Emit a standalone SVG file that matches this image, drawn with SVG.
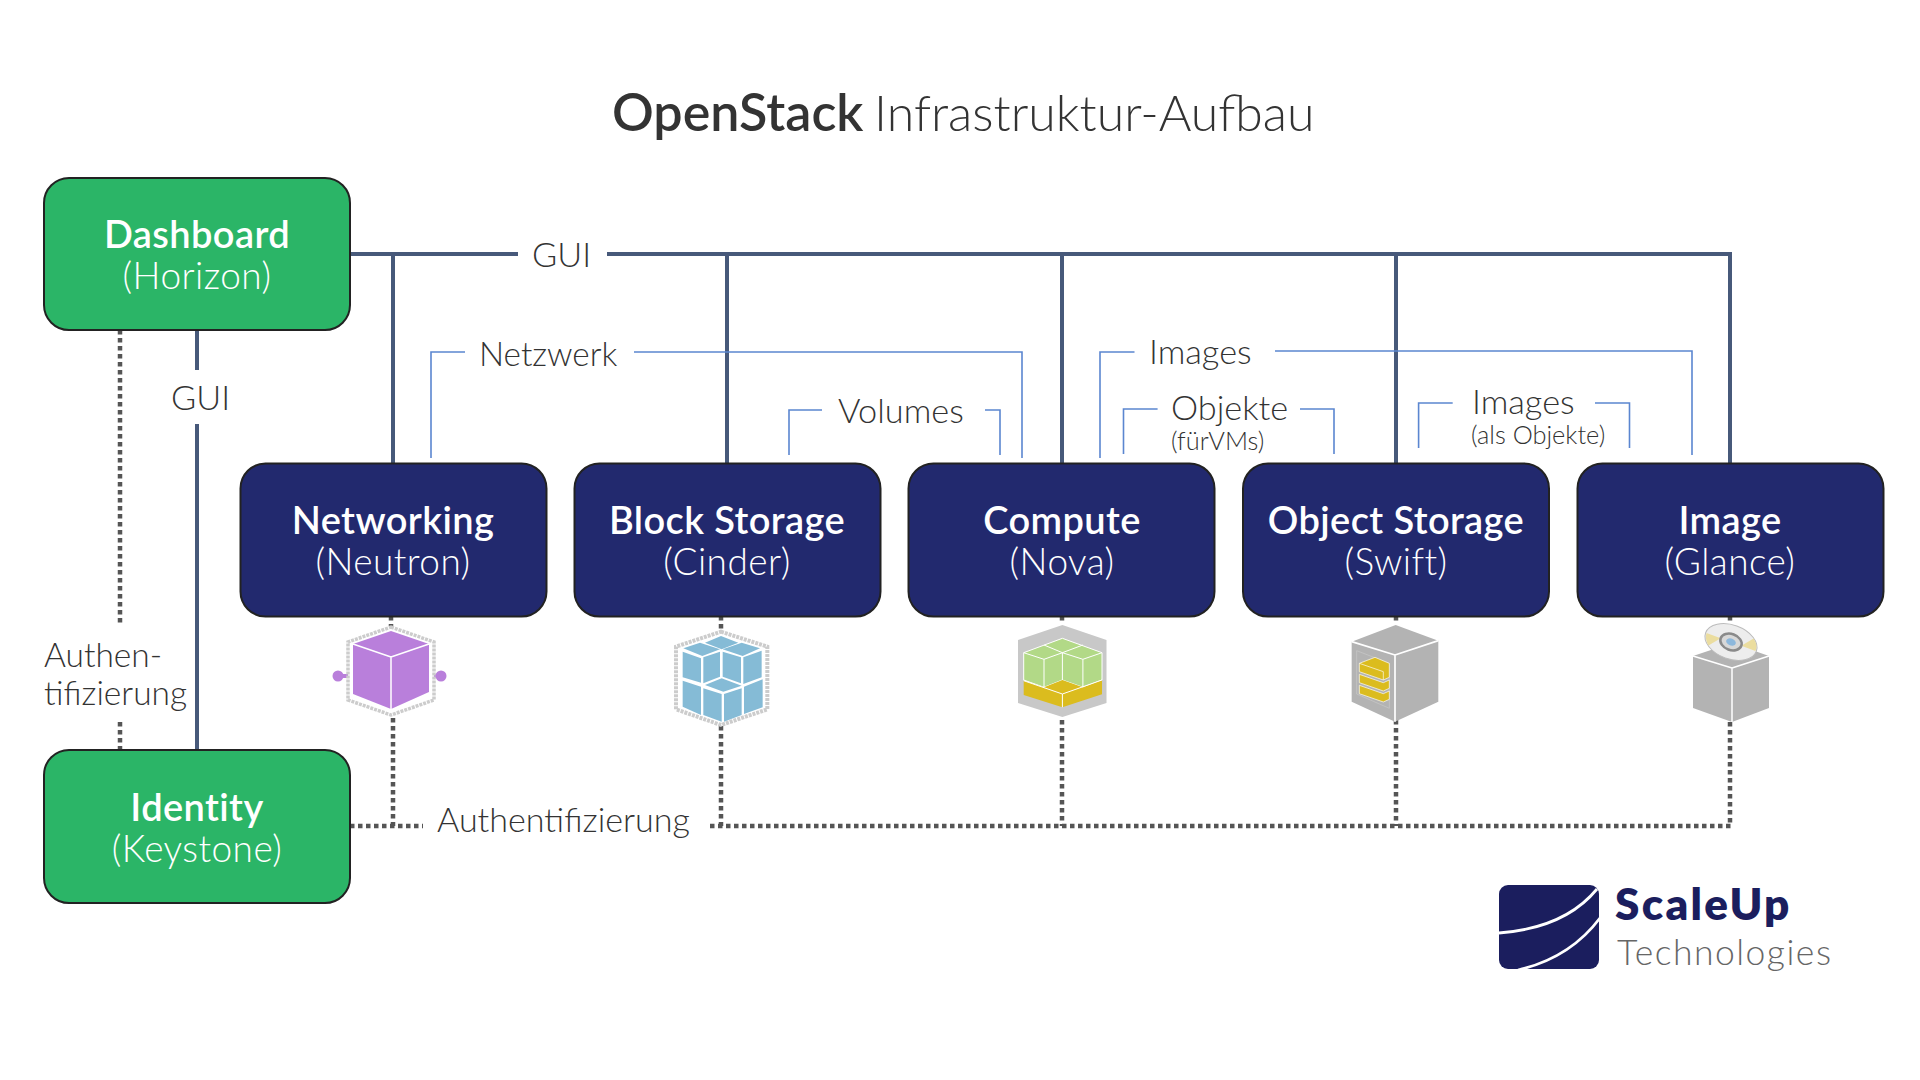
<svg xmlns="http://www.w3.org/2000/svg" width="1920" height="1080" viewBox="0 0 1920 1080">
<style>
text{font-family:Lato,"Noto Sans",sans-serif;fill:#333;font-weight:300}
.t{text-anchor:middle;fill:#fff}
.b{font-size:38px;font-weight:600;letter-spacing:.4px}
.s{font-size:37px;font-weight:300;letter-spacing:.45px}
.l{font-size:34.300px}
.sm{font-size:25.400px}
.green{fill:#2BB567;stroke:#222;stroke-width:2}
.navy{fill:#22296E;stroke:#222;stroke-width:2}
.gui{fill:none;stroke:#47597A;stroke-width:4}
.auth{fill:none;stroke:#555;stroke-width:4.500;stroke-dasharray:4.500 3.500}
.blue{fill:none;stroke:#5B86D0;stroke-width:1.600}
.w{fill:none;stroke:#fff;stroke-linejoin:round}
</style>
<rect width="1920" height="1080" fill="#fff"/>
<text x="612" y="131" font-size="50"><tspan font-weight="600" font-size="52">OpenStack</tspan><tspan dx="-3"> Infrastruktur-Aufbau</tspan></text>
<g id="connectors">
<path class="auth" d="M120 330V625M120 722V750M350 826H423M710 826H1731M391 616V626M393 718V826M721 616V631M721 726V826M1062 616V624M1062 720V826M1396 616V624M1396 720V826M1730 616V622M1730 722V826"/>
<path class="gui" d="M350 254H518M607 254H1732M393 254V463M727 254V463M1062 254V463M1396 254V463M1730 254V463M197 330V370M197 424V750"/>
<path class="blue" d="M431 458V352H465M634 352H1022V458M789 455V410H822M985 410H1000V455M1100 458V352H1134.500M1275 351H1692V455M1123.500 454V409H1157.600M1300 409H1334V454M1418.600 448V403H1452.700M1595 403H1629.500V448"/>
</g>
<g id="dashboard"><rect class="green" x="44" y="178" width="306" height="152" rx="25"/><text class="t b" x="197" y="248">Dashboard</text><text class="t s" x="197" y="289">(Horizon)</text></g>
<g id="identity"><rect class="green" x="44" y="750" width="306" height="153" rx="25"/><text class="t b" x="197" y="821">Identity</text><text class="t s" x="197" y="862">(Keystone)</text></g>
<g id="networking"><rect class="navy" x="240.500" y="463.500" width="306" height="153" rx="25"/><text class="t b" x="393" y="534">Networking</text><text class="t s" x="393" y="575">(Neutron)</text></g>
<g id="block-storage"><rect class="navy" x="574.500" y="463.500" width="306" height="153" rx="25"/><text class="t b" x="727" y="534">Block Storage</text><text class="t s" x="727" y="575">(Cinder)</text></g>
<g id="compute"><rect class="navy" x="908.500" y="463.500" width="306" height="153" rx="25"/><text class="t b" x="1062" y="534">Compute</text><text class="t s" x="1062" y="575">(Nova)</text></g>
<g id="object-storage"><rect class="navy" x="1243" y="463.500" width="306" height="153" rx="25"/><text class="t b" x="1396" y="534">Object Storage</text><text class="t s" x="1396" y="575">(Swift)</text></g>
<g id="image"><rect class="navy" x="1577.500" y="463.500" width="306" height="153" rx="25"/><text class="t b" x="1730" y="534">Image</text><text class="t s" x="1730" y="575">(Glance)</text></g>
<g id="labels">
<text class="l" x="532" y="267">GUI</text>
<text class="l" x="171" y="410">GUI</text>
<text class="l" x="479" y="366" style="font-size:33.300px">Netzwerk</text>
<text class="l" x="838" y="423">Volumes</text>
<text class="l" x="1149" y="364">Images</text>
<text class="l" x="1171" y="419.500">Objekte</text>
<text class="sm" x="1171" y="449.500">(fürVMs)</text>
<text class="l" x="1472" y="413.500">Images</text>
<text class="sm" x="1471" y="443.500">(als Objekte)</text>
<text class="l" x="44" y="667" style="font-size:33.500px">Authen-</text>
<text class="l" x="44" y="705" style="font-size:33.500px">tifizierung</text>
<text class="l" x="437" y="832" style="font-size:34.100px">Authentifizierung</text>
</g>
<g id="icon-neutron">
<path d="M334 676H348M434 676H441" stroke="#B97FDB" stroke-width="4"/><circle cx="338" cy="676" r="5.500" fill="#B97FDB"/><circle cx="441" cy="676" r="5.500" fill="#B97FDB"/>
<path d="M391 627L434 642V700L391 715L348 700V642Z" fill="#fff" stroke="#ccc" stroke-width="3.500" stroke-dasharray="3 1"/>
<path d="M391 631L429 644V692L391 709L353 694V644Z" fill="#B97FDB"/>
<path class="w" stroke-width="1.500" d="M353 644L391 657L429 644M391 657V709"/>
</g>
<g id="icon-cinder" transform="translate(640 620) scale(.3333)">
<path d="M243 35L382 80V268L243 315L108 268V80Z" fill="#fff" stroke="#ccc" stroke-width="12" stroke-dasharray="9 3"/>
<g fill="#85BBD6"><path d="M243 48L295 68L245 88L195 68Z"/><path d="M130 85L180 68L240 88L187 108Z"/><path d="M248 88L305 68L360 85L308 108Z"/><path d="M128 95L183 115V188L128 172Z"/><path d="M190 112L240 95V170L190 190Z"/><path d="M248 95L303 112V190L248 170Z"/><path d="M310 112L365 92V172L310 192Z"/><path d="M195 195L245 175L305 197L250 215Z"/><path d="M128 182L183 200V285L128 260Z"/><path d="M190 205L245 222V305L190 285Z"/><path d="M252 222L305 205V285L252 305Z"/><path d="M312 200L368 178V262L312 282Z"/></g>
</g>
<g id="icon-nova">
<path d="M1062.400 625L1106.500 640V703L1062.400 717L1018 703V640Z" fill="#C8C8C8"/>
<path d="M1023.700 652.700L1062.400 638.300L1102 652.700V680L1082.900 687.300L1062.400 680L1044 687.300L1023.700 680Z" fill="#B2D987" stroke="#fff" stroke-width="1"/>
<path d="M1023.700 680.700L1044 687.300L1062.400 680L1082.900 687.300L1102 680V694.300L1062.400 707.300L1023.700 695Z" fill="#DBBC1E"/>
<path class="w" stroke-width="1" d="M1023.700 652.700L1044 659.300L1062.400 652.700L1082.900 659.300L1102 652.700M1044 645L1062.400 652.700L1082.900 645M1044 659.300V687.300M1062.400 652.700V680M1082.900 659.300V687.300M1023.700 680.700L1062.400 694L1102 680M1062.400 694V707.300"/>
</g>
<g id="icon-swift" transform="translate(1330 620) scale(.3333)">
<path d="M197 15L325 62V245L195 305L65 245V65Z" fill="#B3B3B3"/>
<path d="M80 92L178 130V265L80 222Z" fill="none" stroke="#C8C8C8" stroke-width="2"/>
<path class="w" stroke-width="5" d="M65 65L195 105L325 62M195 105V305"/>
<g fill="#DBBC1E" stroke="#fff" stroke-width="2"><path d="M88 196L160 221L178 213V238L160 246L88 221Z"/><path d="M88 163L160 188L178 180V205L160 213L88 188Z"/><path d="M88 130L135 112L178 130V172L160 180L88 155Z"/></g>
<path class="w" stroke-width="2" d="M88 130L160 155V180"/>
</g>
<g id="icon-glance">
<path d="M1732 643L1769 656V708L1732 722L1693 708V656Z" fill="#B3B3B3"/>
<path class="w" stroke-width="1.500" d="M1693 656L1732 668L1769 656M1732 668V722"/>
<g transform="rotate(20 1731 642)">
<ellipse cx="1731" cy="642" rx="27" ry="17" fill="#EDEDED" stroke="#BBB" stroke-width="1"/>
<path d="M1711 653L1720 642H1742L1751 631Q1758 636 1757 642L1742 642H1720L1705 642Q1705 648 1711 653Z" fill="#EBDD9F"/>
<ellipse cx="1731" cy="642" rx="11" ry="8" fill="#D8D8D8" stroke="#8A8A8A" stroke-width="2.500"/>
<ellipse cx="1731" cy="642" rx="5" ry="3.500" fill="#8DB8DC"/>
</g>
</g>
<g id="logo">
<rect x="1499" y="885" width="100" height="84" rx="9" fill="#1B1E5E"/>
<path d="M1499 933Q1565 928 1597 889M1518 970Q1570 958 1600 918" fill="none" stroke="#fff" stroke-width="2.800"/>
<text x="1615" y="920" font-size="44" style="font-weight:800;fill:#1B1E5E;letter-spacing:2.300px">ScaleUp</text>
<text x="1617" y="965" font-size="35.500" style="fill:#666;font-weight:300;letter-spacing:1.500px">Technologies</text>
</g>
</svg>
